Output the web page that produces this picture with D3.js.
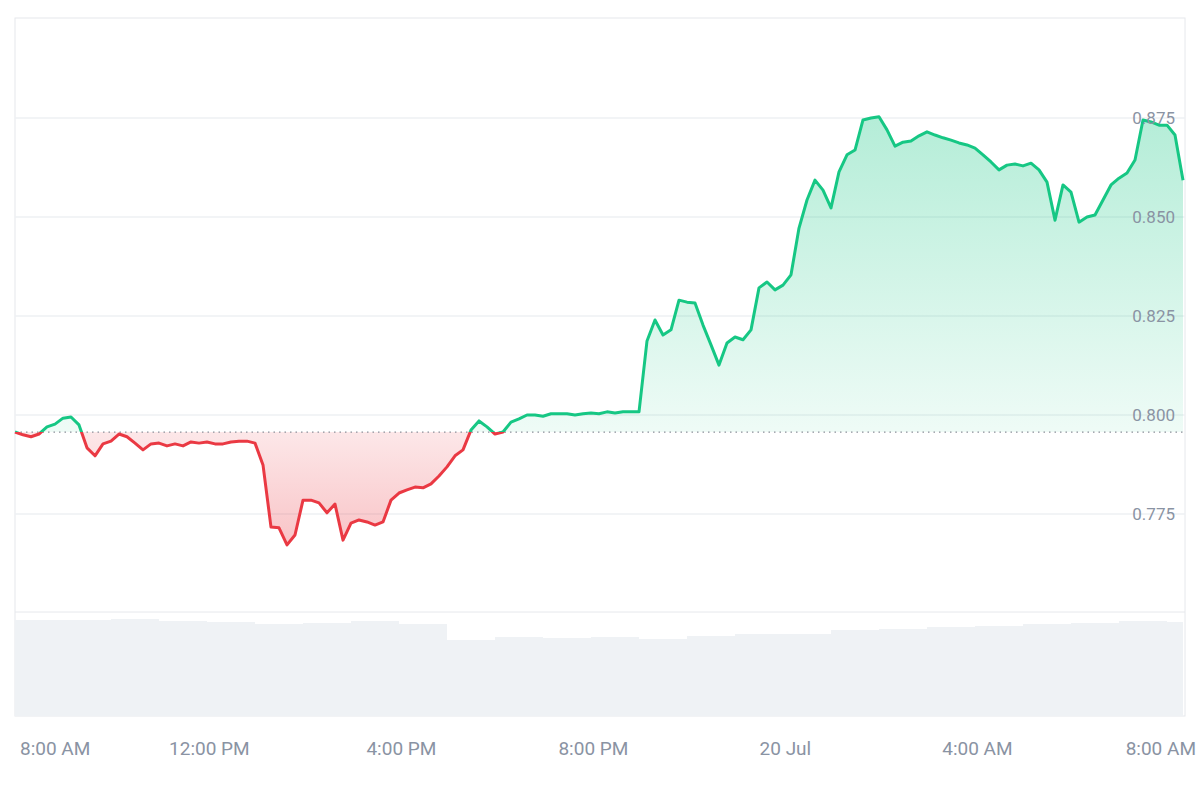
<!DOCTYPE html>
<html><head><meta charset="utf-8">
<script src="https://cdn.jsdelivr.net/npm/d3@7"></script>
<style>body{margin:0;background:#fff;font-family:Roboto,"Noto Sans",sans-serif}</style>
</head><body><svg id="chart" width="1200" height="800"></svg>
<script>
// price every 10 minutes starting 19 Jul 7:57 AM
let startTime = new Date(2024, 6, 19, 7, 57);
let prices = [0.7957,0.7950,0.7945,0.7952,0.7970,0.7977,0.7992,0.7995,0.7975,0.7917,0.7897,0.7927,0.7934,0.7952,0.7945,0.7929,0.7912,0.7927,0.7929,0.7922,0.7927,0.7922,0.7932,0.7929,0.7932,0.7927,0.7927,0.7932,0.7934,0.7934,0.7929,0.7874,0.7717,0.7715,0.7672,0.7697,0.7785,0.7785,0.7778,0.7753,0.7775,0.7684,0.7727,0.7735,0.7730,0.7722,0.7730,0.7785,0.7803,0.7811,0.7818,0.7816,0.7826,0.7846,0.7869,0.7897,0.7912,0.7962,0.7985,0.7970,0.7952,0.7957,0.7982,0.7990,0.8000,0.8000,0.7997,0.8003,0.8003,0.8003,0.8000,0.8003,0.8005,0.8003,0.8008,0.8005,0.8008,0.8008,0.8008,0.8187,0.8240,0.8202,0.8215,0.8290,0.8285,0.8283,0.8227,0.8177,0.8126,0.8182,0.8197,0.8190,0.8215,0.8321,0.8336,0.8316,0.8328,0.8354,0.8472,0.8543,0.8593,0.8568,0.8523,0.8614,0.8657,0.8669,0.8745,0.8750,0.8753,0.8720,0.8679,0.8689,0.8692,0.8705,0.8715,0.8707,0.8700,0.8694,0.8687,0.8682,0.8674,0.8657,0.8639,0.8619,0.8631,0.8634,0.8629,0.8636,0.8619,0.8588,0.8492,0.8581,0.8563,0.8487,0.8500,0.8505,0.8543,0.8581,0.8598,0.8611,0.8644,0.8745,0.8740,0.8732,0.8732,0.8707,0.8593];
// hourly volume (relative units)
let volumes = [96,96,97,95,94,92,93,95,92,76,79,78,79,77,80,82,82,86,87,89,90,92,93,95,94];
let priceTicks = [0.775, 0.800, 0.825, 0.850, 0.875];

let svg = d3.select("#chart");
let padLeft = 15, padRight = 1183, padTop = 18, priceBottom = 612, volBottom = 716;

let data = prices.map((p, i) => ({ t: new Date(+startTime + i * 600000), p: p }));
let x = d3.scaleTime().domain(d3.extent(data, d => d.t)).range([padLeft, padRight]);
let y = d3.scaleLinear().domain([0.775, 0.875]).range([514, 118]);
let yv = d3.scaleLinear().domain([0, 100]).range([volBottom, volBottom - 100]);
let base = prices[0];

// frame
svg.append("rect").attr("x", padLeft).attr("y", padTop).attr("width", 1185 - padLeft).attr("height", volBottom - padTop)
  .attr("fill", "none").attr("stroke", "#e6e8ec");
svg.append("line").attr("x1", padLeft).attr("x2", 1185).attr("y1", priceBottom).attr("y2", priceBottom).attr("stroke", "#e6e8ec");

// grid + labels
priceTicks.forEach(v => {
  svg.append("line").attr("x1", padLeft).attr("x2", 1185).attr("y1", y(v)).attr("y2", y(v)).attr("stroke", "#eef0f3").attr("stroke-width", 1.5);
});

// volume
let volData = volumes.map((v, i) => ({ t: new Date(+startTime + i * 3600000), v: v }));
volData.push({ t: x.domain()[1], v: volumes[volumes.length - 1] });
svg.append("path").datum(volData)
  .attr("d", d3.area().curve(d3.curveStepAfter).x(d => x(d.t)).y0(volBottom).y1(d => yv(d.v)))
  .attr("fill", "#eff2f5");

// gradients and clips
let defs = svg.append("defs");
let gg = defs.append("linearGradient").attr("id", "gGreen").attr("x1", 0).attr("x2", 0)
  .attr("gradientUnits", "userSpaceOnUse").attr("y1", y(0.875)).attr("y2", y(base));
gg.append("stop").attr("offset", 0).attr("stop-color", "#16c784").attr("stop-opacity", 0.32);
gg.append("stop").attr("offset", 1).attr("stop-color", "#16c784").attr("stop-opacity", 0.07);
let gr = defs.append("linearGradient").attr("id", "gRed").attr("x1", 0).attr("x2", 0)
  .attr("gradientUnits", "userSpaceOnUse").attr("y1", y(base)).attr("y2", y(0.767));
gr.append("stop").attr("offset", 0).attr("stop-color", "#ea3943").attr("stop-opacity", 0.12);
gr.append("stop").attr("offset", 1).attr("stop-color", "#ea3943").attr("stop-opacity", 0.3);
defs.append("clipPath").attr("id", "above").append("rect").attr("x", 0).attr("y", 0).attr("width", 1200).attr("height", y(base));
defs.append("clipPath").attr("id", "below").append("rect").attr("x", 0).attr("y", y(base)).attr("width", 1200).attr("height", 800);

let area = d3.area().x(d => x(d.t)).y0(y(base)).y1(d => y(d.p));
let line = d3.line().x(d => x(d.t)).y(d => y(d.p));
svg.append("path").datum(data).attr("d", area).attr("fill", "url(#gGreen)").attr("clip-path", "url(#above)");
svg.append("path").datum(data).attr("d", area).attr("fill", "url(#gRed)").attr("clip-path", "url(#below)");

// baseline
svg.append("line").attr("x1", padLeft).attr("x2", padRight).attr("y1", y(base)).attr("y2", y(base))
  .attr("stroke", "#8a8f99").attr("stroke-width", 1.2).attr("stroke-dasharray", "1.5,4");

svg.append("path").datum(data).attr("d", line).attr("fill", "none").attr("stroke", "#16c784").attr("stroke-width", 3)
  .attr("stroke-linejoin", "round").attr("clip-path", "url(#above)");
svg.append("path").datum(data).attr("d", line).attr("fill", "none").attr("stroke", "#ea3943").attr("stroke-width", 3)
  .attr("stroke-linejoin", "round").attr("clip-path", "url(#below)");

// price labels
priceTicks.forEach(v => {
  svg.append("text").attr("x", 1175).attr("y", y(v)).attr("dy", "0.35em").attr("text-anchor", "end")
    .attr("fill", "#8a93a3").style("font-size", "17px").text(v.toFixed(3));
});

// time axis
let ticks = d3.timeHour.every(4).range(new Date(2024, 6, 19, 8), new Date(2024, 6, 20, 8, 1));
let fmt = d => (d.getHours() === 0 ? d3.timeFormat("%-d %b")(d) : d3.timeFormat("%-I:%M %p")(d));
ticks.forEach(t => {
  let tx = svg.append("text").attr("y", 755).attr("fill", "#8a93a3").style("font-size", "19px")
    .attr("text-anchor", "middle").text(fmt(t));
  let w = tx.node().getComputedTextLength();
  let cx = Math.min(Math.max(x(t), padLeft + 5 + w / 2), 1196 - w / 2);
  tx.attr("x", cx);
});
</script></body></html>
